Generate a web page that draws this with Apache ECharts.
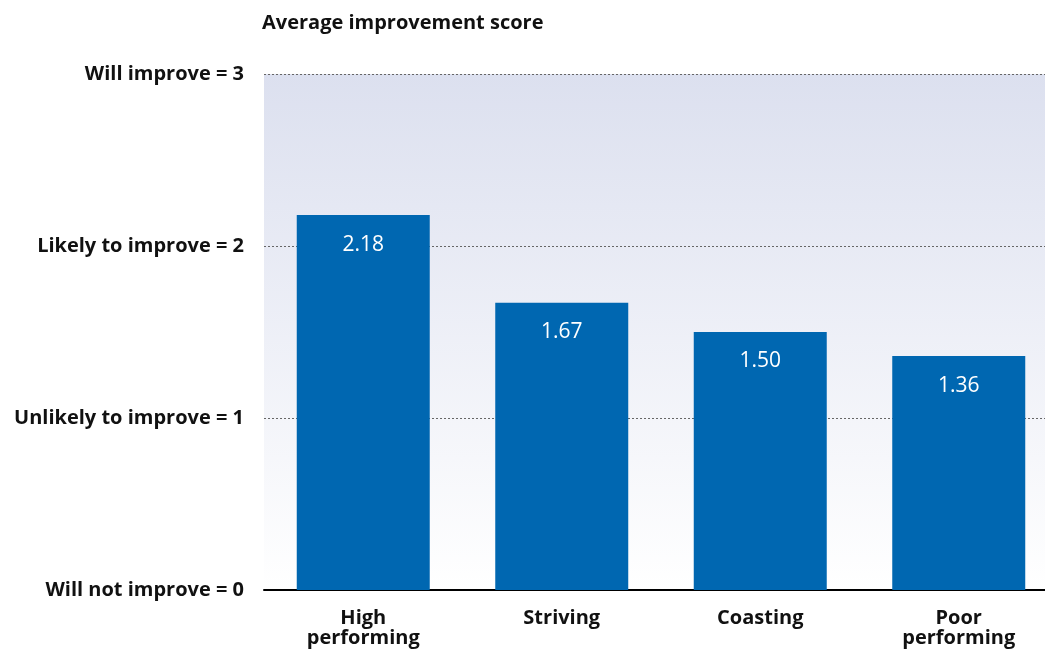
<!DOCTYPE html>
<html lang="en">
<head>
    <meta charset="UTF-8">
    <title>Average improvement score</title>
    <script src="https://cdn.jsdelivr.net/npm/echarts@6/dist/echarts.min.js"></script>
</head>
<body style="margin:0;overflow:hidden;">
<!-- plot area runs a little past the right edge, like the original -->
<div id="main" style="width: 1058px;height:649px;"></div>
<script>
    var categories = ['High\nperforming', 'Striving', 'Coasting', 'Poor\nperforming'];
    var scores = [2.18, 1.67, 1.50, 1.36];
    var tickLabels = ['Will not improve = 0', 'Unlikely to improve = 1', 'Likely to improve = 2', 'Will improve = 3'];

    var font = '"Open Sans", "Noto Sans", sans-serif';
    var myChart = echarts.init(document.getElementById('main'));
    var option = {
        animation: false,
        textStyle: {fontFamily: font},
        title: {
            text: 'Average improvement score',
            left: 257,
            top: 8,
            textStyle: {fontSize: 20, fontWeight: 'bold', color: '#111', fontFamily: font}
        },
        grid: {
            left: 264,
            top: 74,
            right: 0,
            bottom: 59,
            show: true,
            borderWidth: 0,
            backgroundColor: new echarts.graphic.LinearGradient(0, 0, 0, 1, [
                {offset: 0, color: '#dce0ef'},
                {offset: 1, color: '#ffffff'}
            ])
        },
        xAxis: {
            type: 'category',
            data: categories,
            axisTick: {show: false},
            axisLine: {lineStyle: {color: '#000', width: 2}},
            axisLabel: {
                fontSize: 20,
                fontWeight: 'bold',
                color: '#111',
                lineHeight: 20,
                margin: 18,
                fontFamily: font
            }
        },
        yAxis: {
            type: 'value',
            min: 0,
            max: 3,
            interval: 1,
            axisLine: {show: false},
            axisTick: {show: false},
            splitLine: {lineStyle: {color: '#666', type: [2, 2], width: 1}},
            axisLabel: {
                fontSize: 20,
                fontWeight: 'bold',
                color: '#111',
                margin: 20,
                fontFamily: font,
                formatter: function (v) { return tickLabels[v]; }
            }
        },
        series: [{
            type: 'bar',
            data: scores,
            barCategoryGap: '33%',
            itemStyle: {color: '#0067b1'},
            label: {
                show: true,
                position: 'insideTop',
                distance: 19,
                color: '#fff',
                fontSize: 21,
                fontFamily: font,
                formatter: function (p) { return p.value.toFixed(2); }
            }
        }]
    };
    myChart.setOption(option);
</script>
</body>
</html>
